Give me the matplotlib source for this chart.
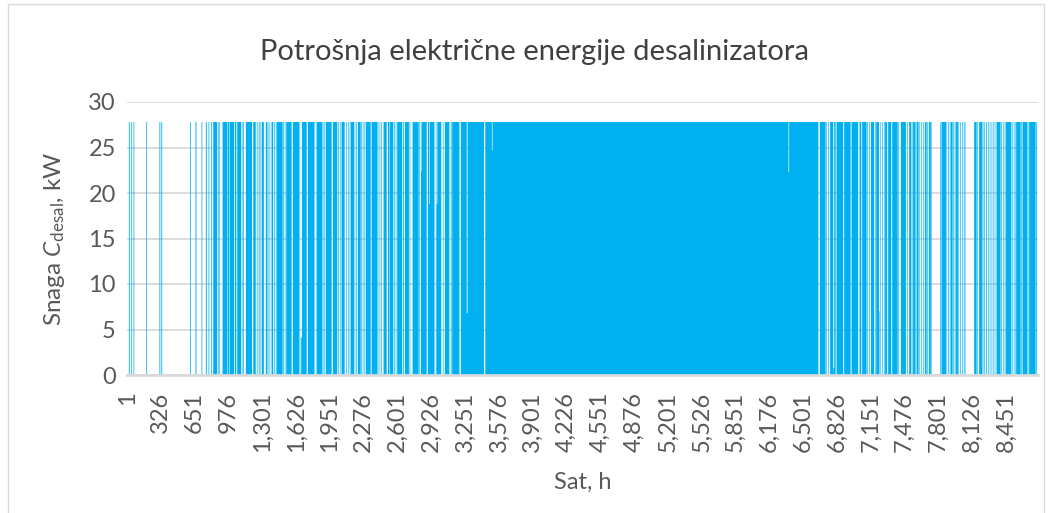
import numpy as np
import matplotlib
matplotlib.use("Agg")
import matplotlib.pyplot as plt
from matplotlib.patches import Rectangle

# ---------------- data ----------------
N_HOURS = 8760
P_ON = 27.8  # kW, rated power when the desalinator runs

# hour ranges (inclusive) during which the desalinator runs at P_ON
on_runs = [
    (19, 26), (43, 49), (64, 70), (185, 191), (313, 320), (331, 338),
    (609, 615), (660, 668), (718, 724), (759, 767), (785, 791), (809, 815),
    (830, 868), (880, 890), (920, 965), (971, 984), (990, 1029), (1038, 1051),
    (1061, 1099), (1112, 1122), (1144, 1202), (1215, 1231),
    (1234, 1240), (1250, 1255), (1268, 1273), (1278, 1283), (1296, 1316),
    (1336, 1349), (1355, 1360), (1372, 1377), (1391, 1406), (1418, 1423),
    (1432, 1437), (1442, 1497), (1502, 1507), (1518, 1523), (1532, 1583),
    (1596, 1654), (1660, 1665), (1683, 1728), (1740, 1798), (1804, 1809),
    (1824, 1878), (1884, 1889), (1900, 1905), (1913, 1968), (1981, 2022),
    (2030, 2035), (2048, 2053), (2064, 2093), (2108, 2113), (2130, 2135),
    (2143, 2148), (2154, 2183), (2190, 2195), (2203, 2208), (2221, 2247),
    (2252, 2257), (2268, 2273), (2285, 2290), (2298, 2343), (2353, 2407),
    (2412, 2417), (2430, 2435), (2446, 2451), (2468, 2497), (2510, 2523),
    (2529, 2561), (2570, 2575), (2585, 2590), (2599, 2647), (2655, 2661),
    (2673, 2711), (2718, 2724), (2747, 2805), (2811, 2816), (2827, 2882),
    (2894, 2952), (2958, 2963), (2975, 3022), (3038, 3043), (3057, 3096),
    (3103, 3108), (3116, 3121), (3128, 3192), (3195, 3199), (3211, 3433),
    (3446, 6648), (6663, 6718), (6724, 6729), (6742, 6747), (6762, 6791),
    (6801, 6814), (6824, 6887), (6897, 6958), (6968, 7031), (7045, 7061),
    (7070, 7112), (7118, 7123), (7136, 7141), (7154, 7183), (7192, 7198),
    (7205, 7231), (7246, 7251), (7262, 7267), (7280, 7285), (7291, 7310),
    (7320, 7349), (7359, 7410), (7414, 7420), (7442, 7490), (7503, 7508),
    (7522, 7541), (7548, 7553), (7560, 7583), (7593, 7612), (7621, 7626),
    (7638, 7643), (7656, 7661), (7673, 7689), (7697, 7702), (7711, 7728),
    (7731, 7736), (7820, 7825), (7833, 7875), (7881, 7886), (7898, 7903),
    (7913, 7918), (7923, 7939), (7945, 7950), (7960, 7965), (7971, 7990),
    (7996, 8001), (8012, 8017), (8030, 8035), (8048, 8053), (8058, 8062),
    (8147, 8170), (8176, 8181), (8195, 8224), (8230, 8235), (8245, 8250),
    (8262, 8268), (8280, 8285), (8297, 8302), (8315, 8320), (8333, 8338),
    (8346, 8350), (8362, 8400), (8407, 8412), (8424, 8429), (8441, 8446),
    (8452, 8503), (8510, 8515), (8528, 8533), (8542, 8546), (8551, 8593),
    (8599, 8604), (8612, 8657), (8663, 8668), (8676, 8737), (8742, 8748),
]

# hour ranges (inclusive) running at part load, with their power in kW
partial_runs = [
    (1672, 1680, 4.1), (2833, 2836, 22.4), (2905, 2910, 18.8),
    (2979, 2984, 18.8), (3268, 3275, 6.8), (3510, 3515, 24.7),
    (6362, 6367, 22.3), (6794, 6800, 0.8), (7232, 7236, 7.0),
]

tick_hours = [1, 326, 651, 976, 1301, 1626, 1951, 2276, 2601, 2926, 3251,
              3576, 3901, 4226, 4551, 4876, 5201, 5526, 5851, 6176, 6501,
              6826, 7151, 7476, 7801, 8126, 8451]
tick_labels = ["1", "326", "651", "976", "1,301", "1,626", "1,951", "2,276",
               "2,601", "2,926", "3,251", "3,576", "3,901", "4,226", "4,551",
               "4,876", "5,201", "5,526", "5,851", "6,176", "6,501", "6,826",
               "7,151", "7,476", "7,801", "8,126", "8,451"]
y_ticks = [0, 5, 10, 15, 20, 25, 30]

title = "Potrošnja električne energije desalinizatora"
x_label = "Sat, h"
y_label = r"Snaga $\mathit{C}_{\mathrm{desal}}$, kW"

# hourly series
power = np.zeros(N_HOURS)
for s, e in on_runs:
    power[s - 1:e] = P_ON
for s, e, v in partial_runs:
    power[s - 1:e] = v
hours = np.arange(1, N_HOURS + 1)

# ---------------- style ----------------
FONT = "Lato"
TXT = "#595959"
GRID = "#D9D9D9"
BAR = "#00B0F0"

plt.rcParams["font.family"] = [FONT, "DejaVu Sans"]
plt.rcParams["mathtext.fontset"] = "custom"
plt.rcParams["mathtext.rm"] = FONT
plt.rcParams["mathtext.it"] = FONT + ":italic"
plt.rcParams["mathtext.bf"] = FONT + ":bold"

W, H = 1049, 513
fig = plt.figure(figsize=(W / 100, H / 100), dpi=100)
fig.patch.set_facecolor("white")

L, R, T, B = 127, 1038, 102, 375
ax = fig.add_axes([L / W, 1 - B / H, (R - L) / W, (B - T) / H])

edges = np.append(hours - 0.5, hours[-1] + 0.5)
ax.stairs(power, edges, fill=True, color=BAR, linewidth=0, baseline=0, zorder=2)

ax.set_xlim(0.5, N_HOURS + 0.5)
ax.set_ylim(0, 30)
ax.set_yticks(y_ticks)
ax.set_xticks(tick_hours)
ax.set_xticklabels(tick_labels, rotation=90)
ax.tick_params(axis="both", length=0, labelsize=17, labelcolor=TXT)
ax.tick_params(axis="x", pad=12)
ax.tick_params(axis="y", pad=8)
for sp in ax.spines.values():
    sp.set_visible(False)
ax.set_axisbelow(True)
ax.yaxis.grid(True, color=GRID, linewidth=1.3)
ax.axhline(0, color=GRID, linewidth=2.0, zorder=3, clip_on=False)

ax.set_xlabel(x_label, fontsize=17, color=TXT)
ax.xaxis.set_label_coords(0.5, -0.355)
ax.set_ylabel(y_label, fontsize=17.5, color=TXT)
ax.yaxis.set_label_coords(-0.066, 0.5)

fig.text(535 / W, 1 - 52 / H, title, fontsize=21, color="#404040",
         ha="center", va="center")

fig.patches.append(Rectangle((7.5 / W, -0.01), (1044 - 7.5) / W, 1 - 4 / H + 0.01,
                             transform=fig.transFigure, fill=False,
                             edgecolor=GRID, linewidth=1.0))

fig.savefig("out.png", dpi=100, facecolor="white")
